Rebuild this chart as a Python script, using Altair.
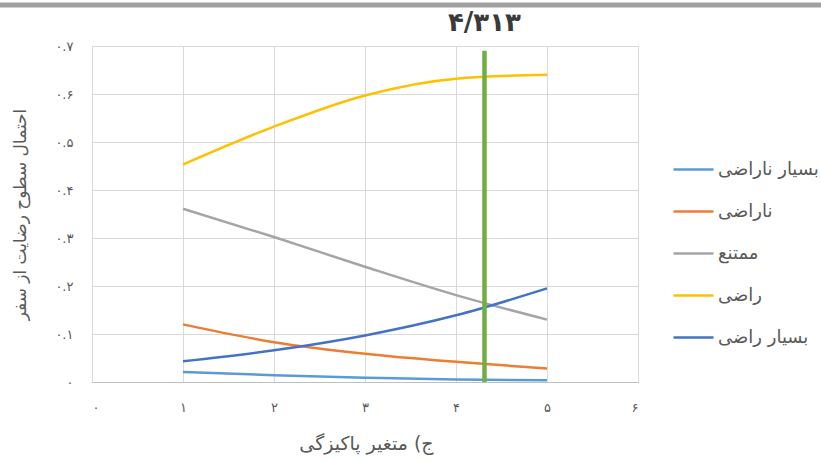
import json
import altair as alt
import pandas as pd

# Predicted probabilities of each satisfaction level against the cleanliness variable
x_values = [1, 2, 3, 4, 5]
series_names = ["بسیار ناراضی", "ناراضی", "ممتنع", "راضی", "بسیار راضی"]
series_colors = ["#5B9BD5", "#ED7D31", "#A5A5A5", "#FFC000", "#4472C4"]

very_dissatisfied = [0.021, 0.014, 0.009, 0.005, 0.0035]
dissatisfied = [0.120, 0.083, 0.059, 0.042, 0.028]
neutral = [0.361, 0.302, 0.240, 0.181, 0.130]
satisfied = [0.453, 0.532, 0.597, 0.632, 0.640]
very_satisfied = [0.043, 0.066, 0.097, 0.139, 0.195]

marker_x = 4.313
marker_top = 0.69
marker_label = "۴/۳۱۳"

x_tick_labels = ["۰", "۱", "۲", "۳", "۴", "۵", "۶"]
y_tick_labels = ["۰", "۰.۱", "۰.۲", "۰.۳", "۰.۴", "۰.۵", "۰.۶", "۰.۷"]
x_title = "ج) متغیر پاکیزگی"
y_title = "احتمال سطوح رضایت از سفر"

FONT = "DejaVu Sans"
TEXT_GREY = "#595959"
GRID_GREY = "#D9D9D9"

all_series = [very_dissatisfied, dissatisfied, neutral, satisfied, very_satisfied]
rows = []
for name, values in zip(series_names, all_series):
    for x, y in zip(x_values, values):
        rows.append({"x": x, "p": y, "series": name})
df = pd.DataFrame(rows)

x_scale = alt.Scale(domain=[0, 6], nice=False, zero=False)
y_scale = alt.Scale(domain=[0, 0.7], nice=False)

x_axis = alt.Axis(
    values=list(range(len(x_tick_labels))),
    labelExpr=json.dumps(x_tick_labels, ensure_ascii=False) + "[datum.value]",
    title=x_title,
    titleFont=FONT, titleFontSize=19, titleFontWeight="normal", titleColor=TEXT_GREY,
    titleX=274, titleY=61, titleBaseline="middle", titleAlign="center",
    labelFont=FONT, labelFontSize=13, labelColor=TEXT_GREY, labelPadding=19,
    ticks=False, domainColor="#BFBFBF", gridColor=GRID_GREY,
)
y_axis = alt.Axis(
    values=[i / 10 for i in range(len(y_tick_labels))],
    labelExpr=json.dumps(y_tick_labels, ensure_ascii=False) + "[round(datum.value*10)]",
    title=y_title,
    titleFont=FONT, titleFontSize=17, titleFontWeight="normal", titleColor=TEXT_GREY,
    titleX=-72, titleY=168, titleBaseline="middle", titleAlign="center", titleAngle=270,
    labelFont=FONT, labelFontSize=13, labelColor=TEXT_GREY, labelPadding=19,
    ticks=False, domain=False, gridColor=GRID_GREY,
)

lines = alt.Chart(df).mark_line(interpolate="monotone", strokeWidth=2.5).encode(
    x=alt.X("x:Q", scale=x_scale, axis=x_axis),
    y=alt.Y("p:Q", scale=y_scale, axis=y_axis),
    color=alt.Color(
        "series:N",
        scale=alt.Scale(domain=series_names, range=series_colors),
        sort=series_names,
        legend=alt.Legend(title=None),
    ),
)

marker_df = pd.DataFrame({"x": [marker_x], "y0": [0.0], "y1": [marker_top], "label": [marker_label]})

marker_line = alt.Chart(marker_df).mark_rule(color="#70AD47", strokeWidth=4.5).encode(
    x=alt.X("x:Q", scale=x_scale),
    y=alt.Y("y0:Q", scale=y_scale),
    y2="y1:Q",
)

marker_text = alt.Chart(marker_df).mark_text(
    font=FONT, fontSize=26, fontWeight="bold", color="#3A3A3A",
    baseline="middle", align="center",
).encode(
    x=alt.X("x:Q", scale=x_scale),
    y=alt.value(-23),
    text="label:N",
)

# thin grey rule across the very top of the figure
top_rule = alt.Chart(marker_df).mark_rule(color="#A0A0A0", strokeWidth=5).encode(
    x=alt.value(-92), x2=alt.value(729), y=alt.value(-41),
)

chart = alt.layer(lines, marker_line, marker_text, top_rule).properties(
    width=546,
    height=336,
    autosize=alt.AutoSizeParams(type="none"),
    padding={"left": 92, "top": 46, "right": 183, "bottom": 79},
    background="white",
).configure_view(
    stroke=GRID_GREY,
).configure_legend(
    orient="none",
    legendX=580,
    legendY=102,
    symbolType="stroke",
    symbolSize=1600,
    symbolStrokeWidth=2.5,
    labelFont=FONT,
    labelFontSize=18,
    labelColor=TEXT_GREY,
    labelOffset=3,
    rowPadding=11,
)

chart.save("out.html", embed_options={"renderer": "svg", "actions": False})
